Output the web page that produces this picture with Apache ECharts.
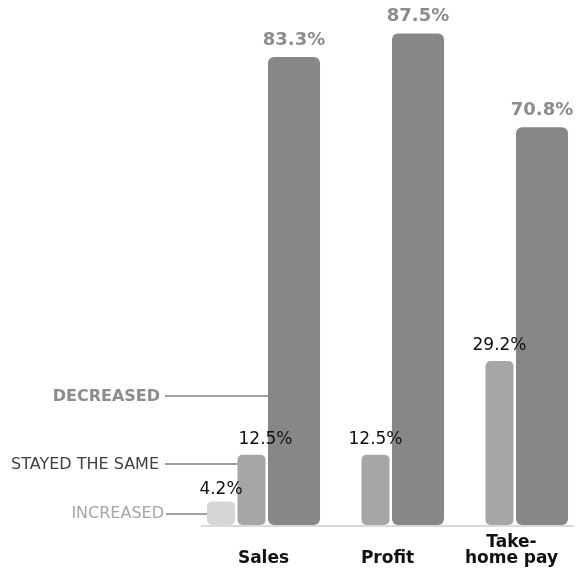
<!doctype html>
<html>
<head>
<meta charset="utf-8">
<title>Sales / Profit / Take-home pay</title>
<script src="https://cdn.jsdelivr.net/npm/echarts@6/dist/echarts.min.js"></script>
<style>
html,body{margin:0;padding:0;background:#fff;}
#main{width:579px;height:578px;}
</style>
</head>
<body>
<div id="main"></div>
<script>
// data (percent of respondents)
var categories = ['Sales', 'Profit', 'Take-\nhome pay'];
var increased = [4.2, '-', '-'];
var stayedSame = [12.5, 12.5, 29.2];
var decreased = [83.3, 87.5, 70.8];

var FONT = '"DejaVu Sans", Verdana, sans-serif';
var myChart = echarts.init(document.getElementById('main'));

function pct(p) { return p.value + '%'; }

// small nudge for the Sales "stayed the same" label, like the original
var stayedData = stayedSame.map(function (v, i) {
    if (i == 0) return { value: v, label: { offset: [14, 0] } };
    return v;
});

myChart.setOption({
    animation: false,
    grid: { left: 201.5, right: 5.5, top: 0, bottom: 53 },
    xAxis: {
        type: 'category',
        data: categories,
        offset: 1,
        axisLine: { onZero: false, lineStyle: { color: '#d9d9d9', width: 2 } },
        axisTick: { show: false },
        axisLabel: {
            color: '#111',
            fontFamily: FONT,
            fontWeight: 'bold',
            fontSize: 17,
            lineHeight: 16,
            verticalAlign: 'bottom',
            margin: 41
        }
    },
    yAxis: {
        type: 'value',
        min: 0,
        max: 93.45,
        show: false,
        splitLine: { show: false }
    },
    series: [
        {
            name: 'INCREASED',
            type: 'bar',
            data: increased,
            barWidth: 28,
            barGap: '9%',
            itemStyle: { color: '#d6d6d6', borderRadius: 5 },
            label: { show: true, position: 'top', distance: 3, formatter: pct,
                     color: '#111', fontSize: 17, fontFamily: FONT }
        },
        {
            name: 'STAYED THE SAME',
            type: 'bar',
            data: stayedData,
            barWidth: 28,
            barGap: '9%',
            itemStyle: { color: '#a6a6a6', borderRadius: 5 },
            label: { show: true, position: 'top', distance: 7, formatter: pct,
                     color: '#111', fontSize: 17, fontFamily: FONT }
        },
        {
            name: 'DECREASED',
            type: 'bar',
            data: decreased,
            barWidth: 52,
            barGap: '9%',
            itemStyle: { color: '#878787', borderRadius: 6 },
            label: { show: true, position: 'top', distance: 8, formatter: pct,
                     color: '#8c8c8c', fontSize: 18, fontWeight: 'bold', fontFamily: FONT }
        }
    ],
    // left-hand legend callouts
    graphic: [
        { type: 'line', z: 1, shape: { x1: 165, y1: 396, x2: 270, y2: 396 },
          style: { stroke: '#808080', lineWidth: 1.3 } },
        { type: 'text', x: 160, y: 397,
          style: { text: 'DECREASED', align: 'right', verticalAlign: 'middle',
                   fontFamily: FONT, fontSize: 16, fontWeight: 'bold', fill: '#8c8c8c' } },
        { type: 'line', z: 1, shape: { x1: 165, y1: 464, x2: 240, y2: 464 },
          style: { stroke: '#808080', lineWidth: 1.3 } },
        { type: 'text', x: 159, y: 465,
          style: { text: 'STAYED THE SAME', align: 'right', verticalAlign: 'middle',
                   fontFamily: FONT, fontSize: 16, fill: '#404040' } },
        { type: 'line', z: 1, shape: { x1: 166, y1: 514, x2: 209, y2: 514 },
          style: { stroke: '#808080', lineWidth: 1.3 } },
        { type: 'text', x: 164, y: 514,
          style: { text: 'INCREASED', align: 'right', verticalAlign: 'middle',
                   fontFamily: FONT, fontSize: 16, fill: '#a6a6a6' } }
    ]
});
</script>
</body>
</html>
